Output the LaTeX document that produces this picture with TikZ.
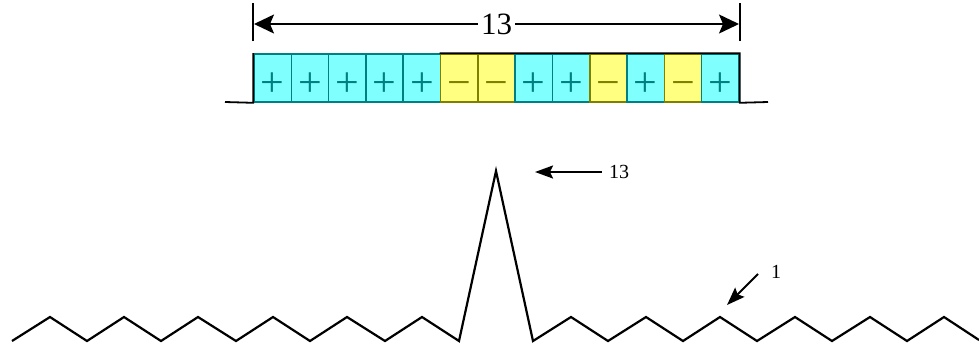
\documentclass[tikz,border=0pt]{standalone}
\usepackage{fontspec}
\setmainfont{Liberation Serif}
\usetikzlibrary{arrows.meta, positioning}

\definecolor{cellcyan}{HTML}{80FFFF}
\definecolor{cellyellow}{HTML}{FFFF80}
\definecolor{edgeteal}{HTML}{008080}
\definecolor{edgeolive}{HTML}{808000}

\begin{document}
\begin{tikzpicture}[
  x=1pt, y=-1pt,
  pcell/.style={draw=edgeteal, line width=1.6pt, fill=cellcyan, text=edgeteal,
    minimum width=37.3pt, minimum height=48pt, inner sep=0pt,
    font=\fontsize{42}{42}\selectfont, text height=37pt, text depth=0pt},
  mcell/.style={pcell, draw=edgeolive, fill=cellyellow, text=edgeolive},
  pulse/.style={line width=1.8pt},
  trace/.style={line width=2.2pt, line join=miter},
  dim/.style={line width=1.6pt, {Stealth[length=20pt,width=19pt,inset=4pt]}-{Stealth[length=20pt,width=19pt,inset=4pt]}},
  ptr/.style={line width=2pt, -{Stealth[length=18pt,width=13pt,inset=3pt]}},
  lbl/.style={font=\fontsize{20}{20}\selectfont, inner sep=1pt}
]
  \useasboundingbox (0,0) rectangle (979,349);
  \def\cw{37.3}
  \def\cy{78}

  % Code word: + + + + + - - + + - + - +
  \node[pcell] (c1)  at (254+0.5*\cw,\cy)  {+};
  \node[pcell] (c2)  at (254+1.5*\cw,\cy)  {+};
  \node[pcell] (c3)  at (254+2.5*\cw,\cy)  {+};
  \node[pcell] (c4)  at (254+3.5*\cw,\cy)  {+};
  \node[pcell] (c5)  at (254+4.5*\cw,\cy)  {+};
  \node[mcell] (c6)  at (254+5.5*\cw,\cy)  {−};
  \node[mcell] (c7)  at (254+6.5*\cw,\cy)  {−};
  \node[pcell] (c8)  at (254+7.5*\cw,\cy)  {+};
  \node[pcell] (c9)  at (254+8.5*\cw,\cy)  {+};
  \node[mcell] (c10) at (254+9.5*\cw,\cy)  {−};
  \node[pcell] (c11) at (254+10.5*\cw,\cy) {+};
  \node[mcell] (c12) at (254+11.5*\cw,\cy) {−};
  \node[pcell] (c13) at (254+12.5*\cw,\cy) {+};

  % Pulse outline
  \draw[pulse] (225,102) -- (c1.south west) -- (c1.north west);
  \draw[pulse] (c6.north west) -- (c13.north east) -- (c13.south east) -- (768,102);

  % Length marker
  \draw[line width=1.8pt] (c1.north west) ++(0,-12) coordinate (tl) -- ++(0,-38);
  \draw[line width=1.8pt] (c13.north east) ++(0,-12) coordinate (tr) -- ++(0,-38);
  \coordinate (dl) at (254,24);
  \coordinate (dr) at (739,24);
  \draw[dim] (dl) -- (dr)
    node[midway, fill=white, inner sep=3pt, font=\fontsize{31}{31}\selectfont] (len) {13};

  % Correlation output
  \draw[trace] (12,341) -- (50,317) -- (87,341) -- (124,317) -- (161,341)
    -- (198,317) -- (236,341) -- (273,317) -- (310,341) -- (347,317)
    -- (385,341) -- (422,317) -- (459,341) -- (496,171) coordinate (peak)
    -- (533,341) -- (571,317) -- (608,341) -- (646,317) -- (683,341)
    -- (720,317) coordinate (side) -- (757,341) -- (795,317) -- (832,341)
    -- (870,317) -- (907,341) -- (944,317) -- (979,340);

  % Peak and sidelobe labels
  \node[lbl] (pk) at (619,172) {13};
  \coordinate (pktip) at (535,172);
  \draw[ptr] ([xshift=-6pt]pk.west) -- (pktip);
  \node[lbl] (one) at (776,272) {1};
  \coordinate (onetail) at (758,274);
  \coordinate (onetip) at (727,305);
  \draw[ptr] (onetail) -- (onetip);
\end{tikzpicture}
\end{document}
